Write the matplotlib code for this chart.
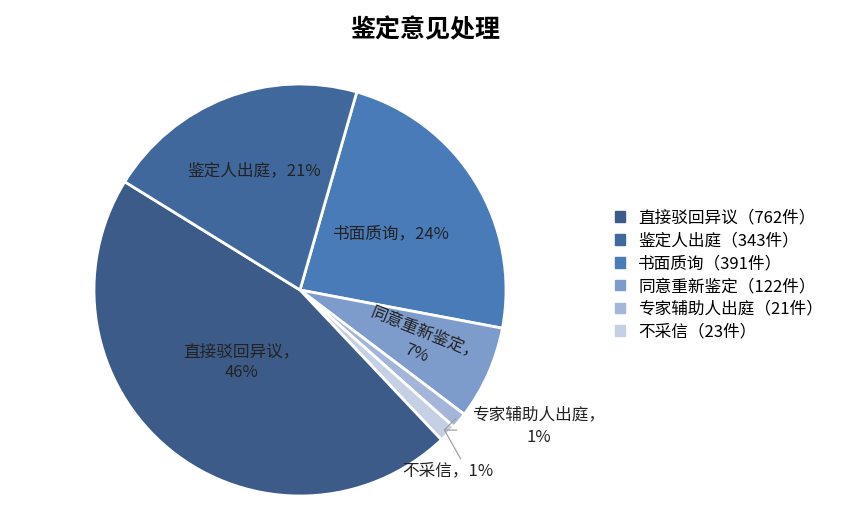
import matplotlib
matplotlib.use("Agg")
import matplotlib.pyplot as plt
import matplotlib.patches as mpatches
import numpy as np

plt.rcParams["font.family"] = "Noto Sans CJK SC"

# pie order (clockwise from top)
pie_names = ["书面质询", "同意重新鉴定", "专家辅助人出庭", "不采信", "直接驳回异议", "鉴定人出庭"]
pie_counts = [391, 122, 21, 23, 762, 343]
pie_pcts = ["24%", "7%", "1%", "1%", "46%", "21%"]
pie_colors = ["#4a7bb9", "#7d9ccb", "#a3b6d9", "#c6d0e5", "#3d5b88", "#41689d"]

legend_order = ["直接驳回异议", "鉴定人出庭", "书面质询", "同意重新鉴定", "专家辅助人出庭", "不采信"]

fig = plt.figure(figsize=(8.51, 5.13), dpi=100)
r_px = 206
ax = fig.add_axes([(300 - r_px) / 851, (513 - 290 - r_px) / 513, 2 * r_px / 851, 2 * r_px / 513])
wedges, _ = ax.pie(pie_counts, colors=pie_colors, startangle=74, counterclock=False,
                   wedgeprops=dict(edgecolor="white", linewidth=2))
ax.set_xlim(-1, 1)
ax.set_ylim(-1, 1)
ax.set_aspect("equal")

def mid(w):
    return np.deg2rad((w.theta1 + w.theta2) / 2)

fs = 12
# inside labels
for i, (rr, txt, rot) in {0: (0.52, "书面质询，24%", 0),
                          4: (0.45, "直接驳回异议，\n46%", 0),
                          5: (0.62, "鉴定人出庭，21%", 0),
                          1: (0.64, "同意重新鉴定，\n7%", -22)}.items():
    a = mid(wedges[i])
    ax.text(rr * np.cos(a), rr * np.sin(a), txt, ha="center", va="center",
            fontsize=fs, rotation=rot, linespacing=1.3, color="#222222")
# outside labels with leaders
a = mid(wedges[2])
p = (np.cos(a), np.sin(a))
ax.plot([p[0] * 0.98, 0.70, 0.76], [p[1] * 0.98, -0.68, -0.68], color="#999999", lw=0.8)
ax.text(1.16, -0.66, "专家辅助人出庭，\n1%", ha="center", va="center", fontsize=fs,
        linespacing=1.4, color="#222222")
a = mid(wedges[3])
p = (np.cos(a), np.sin(a))
ax.plot([p[0] * 0.98, 0.78], [p[1] * 0.98, -0.82], color="#999999", lw=0.8)
ax.text(0.72, -0.88, "不采信，1%", ha="center", va="center", fontsize=fs, color="#222222")

fig.text(425 / 851, 1 - 30 / 513, "鉴定意见处理", ha="center", va="center",
         fontsize=18, fontweight="bold")

handles = []
for name in legend_order:
    i = pie_names.index(name)
    handles.append(mpatches.Patch(color=pie_colors[i], label=f"{name}（{pie_counts[i]}件）"))
fig.legend(handles=handles, loc="center left", bbox_to_anchor=(600 / 851, 1 - 275 / 513),
           frameon=False, fontsize=12, handlelength=0.6, handleheight=0.6,
           handletextpad=0.8, labelspacing=0.35)

fig.savefig("out.png", dpi=100)
